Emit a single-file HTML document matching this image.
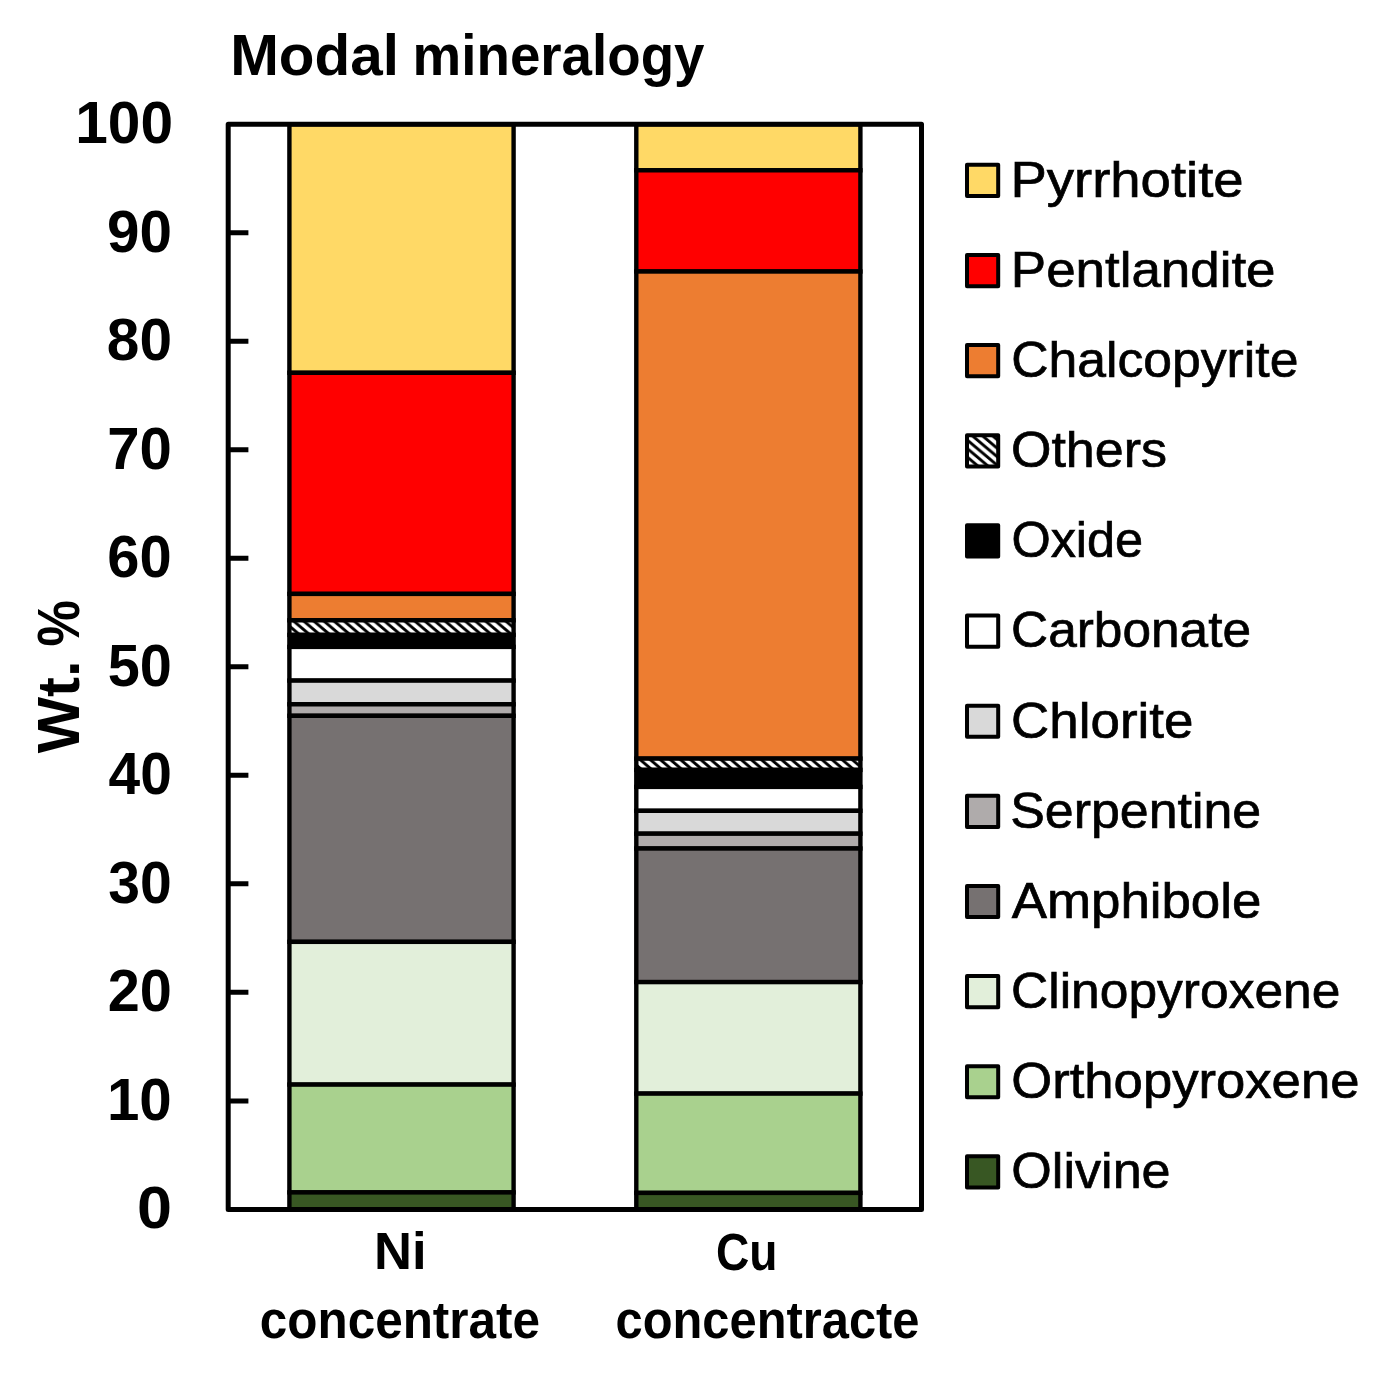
<!DOCTYPE html>
<html lang="en"><head><meta charset="utf-8"><title>Modal mineralogy</title>
<style>html,body{margin:0;padding:0;background:#fff}svg{display:block}text{font-family:"Liberation Sans",Arial,sans-serif;fill:#000;white-space:pre}</style></head><body>
<svg width="1381" height="1374" viewBox="0 0 1381 1374">
<defs><pattern id="hatch" patternUnits="userSpaceOnUse" width="10.1" height="8.5"><rect width="10.1" height="8.5" fill="#fff"/><path d="M-10.1 -8.5L20.2 17M0 -8.5L30.3 17M-20.2 -8.5L10.1 17" stroke="#000" stroke-width="2.9" fill="none"/></pattern></defs>
<rect width="1381" height="1374" fill="#fff"/>
<g id="bars">
<rect x="289.40" y="124.20" width="224.20" height="248.60" fill="#FFD966" stroke="#000" stroke-width="4.4"/>
<rect x="289.40" y="372.80" width="224.20" height="221.10" fill="#FF0000" stroke="#000" stroke-width="4.4"/>
<rect x="289.40" y="593.90" width="224.20" height="26.40" fill="#ED7D31" stroke="#000" stroke-width="4.4"/>
<rect x="289.40" y="620.30" width="224.20" height="14.60" fill="url(#hatch)" stroke="#000" stroke-width="4.4"/>
<rect x="289.40" y="634.90" width="224.20" height="12.00" fill="#000000" stroke="#000" stroke-width="4.4"/>
<rect x="289.40" y="646.90" width="224.20" height="33.70" fill="#FFFFFF" stroke="#000" stroke-width="4.4"/>
<rect x="289.40" y="680.60" width="224.20" height="23.70" fill="#D9D9D9" stroke="#000" stroke-width="4.4"/>
<rect x="289.40" y="704.30" width="224.20" height="11.50" fill="#AFABAB" stroke="#000" stroke-width="4.4"/>
<rect x="289.40" y="715.80" width="224.20" height="226.05" fill="#767171" stroke="#000" stroke-width="4.4"/>
<rect x="289.40" y="941.85" width="224.20" height="142.75" fill="#E2EFDA" stroke="#000" stroke-width="4.4"/>
<rect x="289.40" y="1084.60" width="224.20" height="107.80" fill="#A9D18E" stroke="#000" stroke-width="4.4"/>
<rect x="289.40" y="1192.40" width="224.20" height="17.00" fill="#385723" stroke="#000" stroke-width="4.4"/>
<rect x="636.30" y="124.20" width="224.10" height="46.10" fill="#FFD966" stroke="#000" stroke-width="4.4"/>
<rect x="636.30" y="170.30" width="224.10" height="101.20" fill="#FF0000" stroke="#000" stroke-width="4.4"/>
<rect x="636.30" y="271.50" width="224.10" height="487.10" fill="#ED7D31" stroke="#000" stroke-width="4.4"/>
<rect x="636.30" y="758.60" width="224.10" height="11.30" fill="url(#hatch)" stroke="#000" stroke-width="4.4"/>
<rect x="636.30" y="769.90" width="224.10" height="17.00" fill="#000000" stroke="#000" stroke-width="4.4"/>
<rect x="636.30" y="786.90" width="224.10" height="23.90" fill="#FFFFFF" stroke="#000" stroke-width="4.4"/>
<rect x="636.30" y="810.80" width="224.10" height="22.90" fill="#D9D9D9" stroke="#000" stroke-width="4.4"/>
<rect x="636.30" y="833.70" width="224.10" height="14.80" fill="#AFABAB" stroke="#000" stroke-width="4.4"/>
<rect x="636.30" y="848.50" width="224.10" height="133.60" fill="#767171" stroke="#000" stroke-width="4.4"/>
<rect x="636.30" y="982.10" width="224.10" height="111.50" fill="#E2EFDA" stroke="#000" stroke-width="4.4"/>
<rect x="636.30" y="1093.60" width="224.10" height="99.30" fill="#A9D18E" stroke="#000" stroke-width="4.4"/>
<rect x="636.30" y="1192.90" width="224.10" height="16.50" fill="#385723" stroke="#000" stroke-width="4.4"/>
</g>
<rect x="228.2" y="124.2" width="693.30" height="1085.20" fill="none" stroke="#000" stroke-width="5.0" stroke-linejoin="round"/>
<path d="M228.2 1100.88H248.4M228.2 992.36H248.4M228.2 883.84H248.4M228.2 775.32H248.4M228.2 666.80H248.4M228.2 558.28H248.4M228.2 449.76H248.4M228.2 341.24H248.4M228.2 232.72H248.4" stroke="#000" stroke-width="5.0" fill="none"/>
<g id="ylabels">
<text id="yt0" transform="translate(136.95 1228.35) scale(1.0665 1)" font-size="59.00" font-weight="700">0</text>
<text id="yt1" transform="translate(106.92 1119.83) scale(0.9876 1)" font-size="59.00" font-weight="700">10</text>
<text id="yt2" transform="translate(107.67 1011.31) scale(0.9777 1)" font-size="59.00" font-weight="700">20</text>
<text id="yt3" transform="translate(108.18 902.79) scale(0.9673 1)" font-size="59.00" font-weight="700">30</text>
<text id="yt4" transform="translate(108.61 794.27) scale(0.9645 1)" font-size="59.00" font-weight="700">40</text>
<text id="yt5" transform="translate(107.73 685.75) scale(0.9779 1)" font-size="59.00" font-weight="700">50</text>
<text id="yt6" transform="translate(107.36 577.23) scale(0.9805 1)" font-size="59.00" font-weight="700">60</text>
<text id="yt7" transform="translate(107.19 468.71) scale(0.9854 1)" font-size="59.00" font-weight="700">70</text>
<text id="yt8" transform="translate(106.85 360.19) scale(0.9930 1)" font-size="59.00" font-weight="700">80</text>
<text id="yt9" transform="translate(107.10 251.67) scale(0.9894 1)" font-size="59.00" font-weight="700">90</text>
<text id="yt10" transform="translate(75.25 143.15) scale(0.9933 1)" font-size="59.00" font-weight="700">100</text>
</g>
<text id="title1" transform="translate(230.17 75.00) scale(1.0077 1)" font-size="58.00" font-weight="700">Modal</text>
<text id="title2" transform="translate(412.61 75.00) scale(0.9434 1)" font-size="58.00" font-weight="700">mineralogy</text>
<text id="ylab1" transform="translate(79.17 753.35) rotate(-90) scale(1.0221 1)" font-size="58.50" font-weight="700">Wt.</text>
<text id="ylab2" transform="translate(78.90 646.55) rotate(-90) scale(0.8920 1)" font-size="58.50" font-weight="700">%</text>
<text id="ni" transform="translate(373.99 1269.20) scale(1.0319 1)" font-size="51.00" font-weight="700">Ni</text>
<text id="nic" transform="translate(259.79 1338.00) scale(0.9695 1)" font-size="51.00" font-weight="700">concentrate</text>
<text id="cu" transform="translate(716.00 1270.30) scale(0.9054 1)" font-size="51.00" font-weight="700">Cu</text>
<text id="cuc" transform="translate(615.56 1338.00) scale(0.9577 1)" font-size="51.00" font-weight="700">concentracte</text>
<g id="legend" stroke="#000" stroke-width="0.7">
<rect x="967" y="164.85" width="31.2" height="31.2" fill="#FFD966" stroke="#000" stroke-width="4" stroke-linejoin="round"/>
<text id="lg_pyr" transform="translate(1010.41 196.75) scale(1.0773 1)" font-size="50.60">Pyrrhotite</text>
<rect x="967" y="254.98" width="31.2" height="31.2" fill="#FF0000" stroke="#000" stroke-width="4" stroke-linejoin="round"/>
<text id="lg_pen" transform="translate(1010.85 286.88) scale(1.0456 1)" font-size="50.60">Pentlandite</text>
<rect x="967" y="345.11" width="31.2" height="31.2" fill="#ED7D31" stroke="#000" stroke-width="4" stroke-linejoin="round"/>
<text id="lg_cha" transform="translate(1011.29 377.01) scale(1.0209 1)" font-size="50.60">Chalcopyrite</text>
<rect x="967" y="435.24" width="31.2" height="31.2" fill="url(#hatch)" stroke="#000" stroke-width="4" stroke-linejoin="round"/>
<text id="lg_oth" transform="translate(1010.99 467.14) scale(1.0273 1)" font-size="50.60">Others</text>
<rect x="967" y="525.37" width="31.2" height="31.2" fill="#000000" stroke="#000" stroke-width="4" stroke-linejoin="round"/>
<text id="lg_oxi" transform="translate(1011.39 557.27) scale(0.9974 1)" font-size="50.60">Oxide</text>
<rect x="967" y="615.50" width="31.2" height="31.2" fill="#FFFFFF" stroke="#000" stroke-width="4" stroke-linejoin="round"/>
<text id="lg_car" transform="translate(1011.01 647.40) scale(1.0158 1)" font-size="50.60">Carbonate</text>
<rect x="967" y="705.63" width="31.2" height="31.2" fill="#D9D9D9" stroke="#000" stroke-width="4" stroke-linejoin="round"/>
<text id="lg_chl" transform="translate(1011.06 737.53) scale(1.0461 1)" font-size="50.60">Chlorite</text>
<rect x="967" y="795.76" width="31.2" height="31.2" fill="#AFABAB" stroke="#000" stroke-width="4" stroke-linejoin="round"/>
<text id="lg_ser" transform="translate(1010.26 827.66) scale(1.0254 1)" font-size="50.60">Serpentine</text>
<rect x="967" y="885.89" width="31.2" height="31.2" fill="#767171" stroke="#000" stroke-width="4" stroke-linejoin="round"/>
<text id="lg_amp" transform="translate(1011.83 917.79) scale(1.0437 1)" font-size="50.60">Amphibole</text>
<rect x="967" y="976.02" width="31.2" height="31.2" fill="#E2EFDA" stroke="#000" stroke-width="4" stroke-linejoin="round"/>
<text id="lg_cli" transform="translate(1011.01 1007.92) scale(1.0185 1)" font-size="50.60">Clinopyroxene</text>
<rect x="967" y="1066.15" width="31.2" height="31.2" fill="#A9D18E" stroke="#000" stroke-width="4" stroke-linejoin="round"/>
<text id="lg_ort" transform="translate(1011.24 1098.05) scale(1.0405 1)" font-size="50.60">Orthopyroxene</text>
<rect x="967" y="1156.28" width="31.2" height="31.2" fill="#385723" stroke="#000" stroke-width="4" stroke-linejoin="round"/>
<text id="lg_oli" transform="translate(1011.29 1188.18) scale(1.0304 1)" font-size="50.60">Olivine</text>
</g>
</svg></body></html>
